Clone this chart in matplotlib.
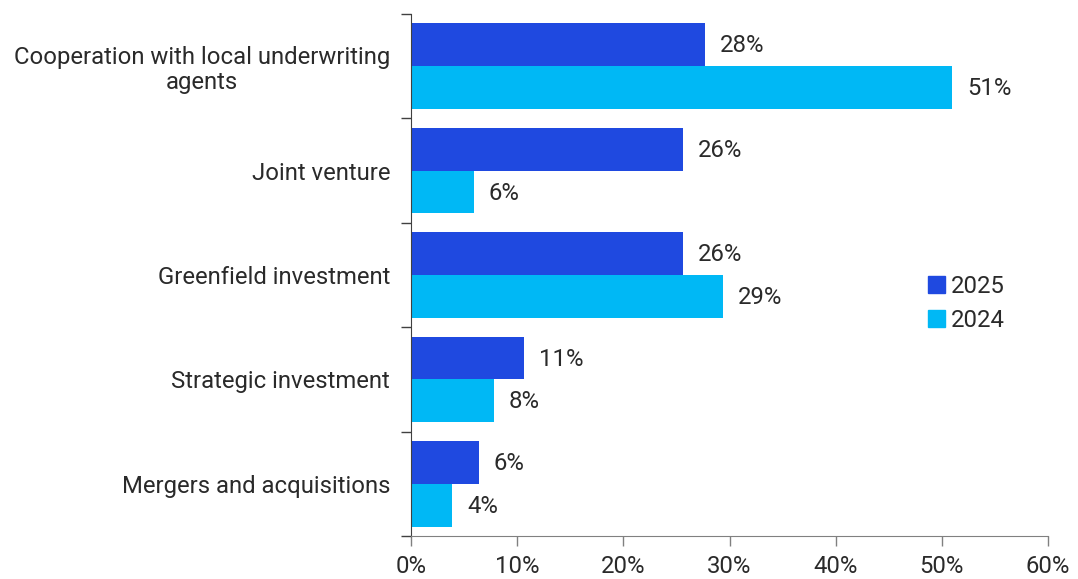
import matplotlib
matplotlib.use("Agg")
import matplotlib.pyplot as plt
import numpy as np
from matplotlib.patches import Patch

plt.rcParams['font.family'] = ['Roboto', 'DejaVu Sans']

categories = [
    "Cooperation with local underwriting\nagents",
    "Joint venture",
    "Greenfield investment",
    "Strategic investment",
    "Mergers and acquisitions",
]
values_2025 = [27.7, 25.6, 25.6, 10.6, 6.4]
values_2024 = [51.0, 5.9, 29.4, 7.8, 3.9]
series_labels = ["2025", "2024"]
x_ticks = [0, 10, 20, 30, 40, 50, 60]

color_2025 = "#1F49E0"
color_2024 = "#00B8F5"
text_color = "#2a2a2a"
fs = 17.2

fig = plt.figure(figsize=(10.78, 5.79), dpi=100)
ax = fig.add_axes([411 / 1078, 1 - 536 / 579, (1048 - 411) / 1078, (536 - 14) / 579])

y = np.arange(len(categories))
h = 0.41
bars25 = ax.barh(y - h / 2, values_2025, height=h, color=color_2025, linewidth=0)
bars24 = ax.barh(y + h / 2, values_2024, height=h, color=color_2024, linewidth=0)

offset = 15 * 60 / (1048 - 411)  # ~15px gap in data units
for bars, vals in ((bars25, values_2025), (bars24, values_2024)):
    for b, v in zip(bars, vals):
        ax.text(v + offset, b.get_y() + b.get_height() / 2 + 0.01, f"{v:.0f}%",
                va="center", ha="left", fontsize=fs, color=text_color)

ax.set_xlim(0, 60)
ax.set_ylim(len(categories) - 0.5, -0.5)

ax.set_xticks(x_ticks)
ax.set_xticklabels([f"{t}%" for t in x_ticks], fontsize=fs, color=text_color)
ax.tick_params(axis="x", length=7, width=1, color="#808080", pad=7)

# category labels at centres, tick marks at group boundaries
ax.set_yticks(y)
ax.set_yticklabels(categories, fontsize=fs, color=text_color, ha="right",
                   multialignment="center", linespacing=1.1)
ax.tick_params(axis="y", which="major", length=0, pad=15)
ax.set_yticks(np.arange(len(categories) + 1) - 0.5, minor=True)
ax.tick_params(axis="y", which="minor", length=7, width=1, color="#404040")

for s in ("top", "right"):
    ax.spines[s].set_visible(False)
ax.spines["left"].set_color("#404040")
ax.spines["bottom"].set_color("#808080")

handles = [Patch(color=color_2025, label=series_labels[0]),
           Patch(color=color_2024, label=series_labels[1])]
leg = fig.legend(handles=handles, loc="upper left",
                 bbox_to_anchor=(928 / 1078, 1 - 275 / 579),
                 frameon=False, fontsize=fs, handlelength=0.7, handleheight=0.7,
                 handletextpad=0.25, labelspacing=0.45, borderaxespad=0, borderpad=0)
for t in leg.get_texts():
    t.set_color(text_color)

fig.savefig("out.png", dpi=100)
